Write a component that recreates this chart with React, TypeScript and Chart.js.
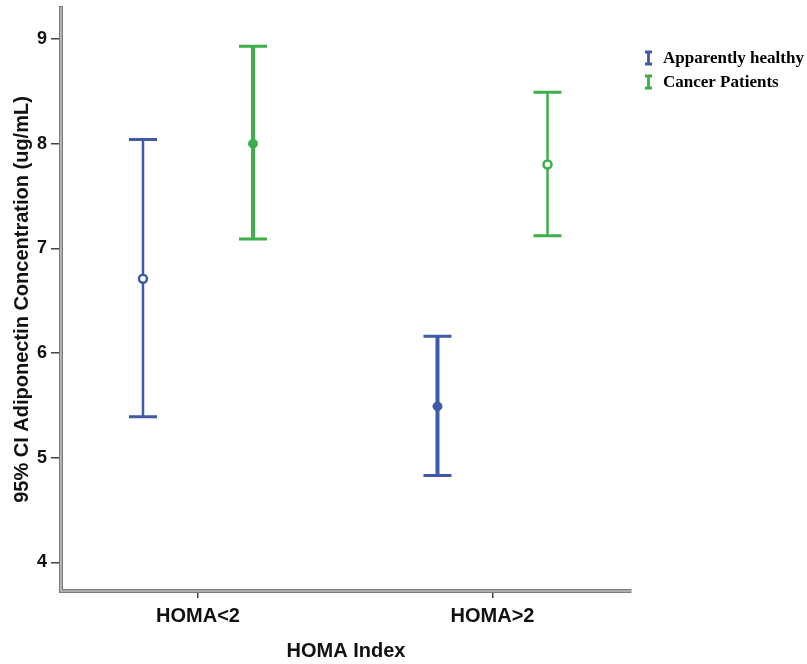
import React, { useEffect, useRef } from "react";
import { Chart, registerables } from "chart.js";

Chart.register(...registerables);

const categories = ["HOMA<2", "HOMA>2"];
const seriesNames = ["Apparently healthy", "Cancer Patients"];
const healthyMean = [6.71, 5.49];
const healthyLower = [5.39, 4.83];
const healthyUpper = [8.04, 6.16];
const cancerMean = [8.0, 7.8];
const cancerLower = [7.09, 7.12];
const cancerUpper = [8.93, 8.49];
const yTicks = [4, 5, 6, 7, 8, 9];

const BLUE = "#3e5aa9";
const GREEN = "#3cae4b";
const DODGE = 0.1868;
const SANS = "'Liberation Sans', Arial, sans-serif";
const SERIF = "'Liberation Serif', 'Times New Roman', serif";

const errorBarPlugin = {
  id: "errorBars",
  beforeDatasetsDraw(chart: any) {
    const ctx = chart.ctx;
    const yScale = chart.scales.y;
    chart.data.datasets.forEach((ds: any, di: number) => {
      const meta = chart.getDatasetMeta(di);
      meta.data.forEach((el: any, i: number) => {
        const x = el.x;
        const yLo = yScale.getPixelForValue(ds.lower[i]);
        const yHi = yScale.getPixelForValue(ds.upper[i]);
        ctx.save();
        ctx.strokeStyle = ds.barColor;
        ctx.lineWidth = ds.barWidths[i];
        ctx.beginPath();
        ctx.moveTo(x, yHi);
        ctx.lineTo(x, yLo);
        ctx.stroke();
        ctx.lineWidth = 3;
        ctx.beginPath();
        ctx.moveTo(x - 14, yHi);
        ctx.lineTo(x + 14, yHi);
        ctx.moveTo(x - 14, yLo);
        ctx.lineTo(x + 14, yLo);
        ctx.stroke();
        ctx.restore();
      });
    });
  },
  afterDraw(chart: any) {
    const ctx = chart.ctx;
    const { left, right, top, bottom } = chart.chartArea;
    // light centre stripe of the double axis line
    ctx.save();
    ctx.strokeStyle = "#d9d9d9";
    ctx.lineWidth = 1.2;
    ctx.beginPath();
    ctx.moveTo(left, top - 1);
    ctx.lineTo(left, bottom);
    ctx.lineTo(right + 1, bottom);
    ctx.stroke();
    ctx.restore();

    // legend
    const colors = [BLUE, GREEN];
    ctx.save();
    ctx.font = `bold 17px ${SERIF}`;
    ctx.textBaseline = "middle";
    ctx.fillStyle = "#000";
    seriesNames.forEach((name, i) => {
      const cy = 58 + i * 24;
      const ix = 648.5;
      ctx.strokeStyle = colors[i];
      ctx.lineWidth = 2.8;
      ctx.beginPath();
      ctx.moveTo(ix, cy - 6);
      ctx.lineTo(ix, cy + 6);
      ctx.moveTo(ix - 3.5, cy - 6);
      ctx.lineTo(ix + 3.5, cy - 6);
      ctx.moveTo(ix - 3.5, cy + 6);
      ctx.lineTo(ix + 3.5, cy + 6);
      ctx.stroke();
      ctx.fillText(name, 663, cy + 1);
    });
    ctx.restore();
  },
};

export default function App() {
  const canvasRef = useRef<HTMLCanvasElement | null>(null);

  useEffect(() => {
    if (!canvasRef.current) return;
    const chart = new Chart(canvasRef.current, {
      type: "scatter",
      data: {
        datasets: [
          {
            label: seriesNames[0],
            data: categories.map((_, i) => ({ x: i - DODGE, y: healthyMean[i] })),
            lower: healthyLower,
            upper: healthyUpper,
            barColor: BLUE,
            barWidths: [2.5, 4],
            pointRadius: [4, 4.5],
            pointBorderWidth: [2.5, 1],
            pointBackgroundColor: ["#ffffff", BLUE],
            pointBorderColor: BLUE,
          } as any,
          {
            label: seriesNames[1],
            data: categories.map((_, i) => ({ x: i + DODGE, y: cancerMean[i] })),
            lower: cancerLower,
            upper: cancerUpper,
            barColor: GREEN,
            barWidths: [4, 2.5],
            pointRadius: [4.5, 4],
            pointBorderWidth: [1, 2.5],
            pointBackgroundColor: [GREEN, "#ffffff"],
            pointBorderColor: GREEN,
          } as any,
        ],
      },
      options: {
        animation: false,
        responsive: false,
        events: [],
        layout: { padding: { top: 8, right: 176, left: 0, bottom: 0 } },
        plugins: { legend: { display: false }, tooltip: { enabled: false } },
        scales: {
          x: {
            type: "linear",
            min: -0.4652,
            max: 1.4703,
            afterFit(scale: any) {
              scale.height = 73;
              scale.paddingLeft = 0;
              scale.paddingRight = 0;
            },
            afterBuildTicks(scale: any) {
              scale.ticks = categories.map((_, i) => ({ value: i }));
            },
            ticks: {
              callback: (v: any) => categories[Math.round(Number(v))] ?? "",
              font: { family: SANS, size: 20, weight: "bold" },
              color: "#111",
              padding: 6,
              maxRotation: 0,
              autoSkip: false,
            },
            grid: { drawOnChartArea: false, drawTicks: true, tickLength: 7, color: "#444", lineWidth: 1.5 },
            border: { display: true, color: "#7c7c7c", width: 4 },
            title: {
              display: true,
              text: "HOMA Index",
              font: { family: SANS, size: 20, weight: "bold" },
              color: "#111",
              padding: { top: 0, bottom: 1 },
            },
          },
          y: {
            type: "linear",
            min: 3.726,
            max: 9.296,
            afterFit(scale: any) {
              scale.width = 61;
              scale.paddingTop = 0;
              scale.paddingBottom = 0;
            },
            afterBuildTicks(scale: any) {
              scale.ticks = yTicks.map((v) => ({ value: v }));
            },
            ticks: {
              font: { family: SANS, size: 18, weight: "bold" },
              color: "#111",
              padding: 4,
            },
            grid: { drawOnChartArea: false, drawTicks: true, tickLength: 10, color: "#444", lineWidth: 1.5 },
            border: { display: true, color: "#7c7c7c", width: 4 },
            title: {
              display: true,
              text: "95% CI Adiponectin Concentration (ug/mL)",
              font: { family: SANS, size: 20, weight: "bold" },
              color: "#111",
              padding: { top: 10, bottom: 0 },
            },
          },
        },
      } as any,
      plugins: [errorBarPlugin],
    });
    return () => chart.destroy();
  }, []);

  return (
    <div style={{ position: "absolute", left: 0, top: 0, width: 807, height: 664, background: "#fff" }}>
      <canvas ref={canvasRef} width={807} height={664} />
    </div>
  );
}
